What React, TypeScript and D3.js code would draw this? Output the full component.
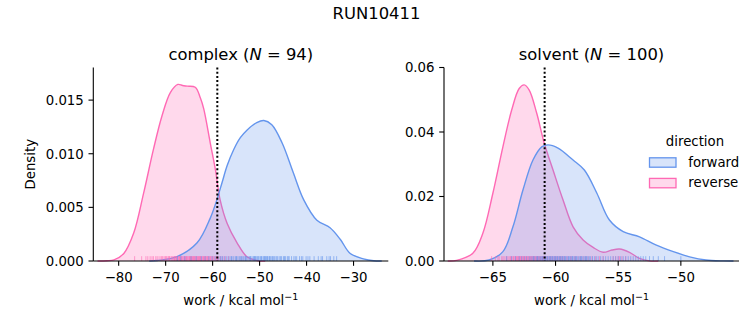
import React from "react";
import * as d3 from "d3";

// ---------- data ----------
const suptitle = "RUN10411";
const directions = ["forward", "reverse"];
const colors = { forward: "#6495ED", reverse: "#FF69B4" };

// complex KDE curves
const complexForwardX = [-73.5, -71.8, -67.6, -63.3, -60.5, -59.1, -58.0, -56.9, -55.5, -54.1, -52.7, -50.6, -49.1, -47.4, -45.2, -42.8, -40.6, -37.8, -35.0, -32.8, -30.7, -27.9, -25.7, -24.0];
const complexForwardY = [0, 0.00005, 0.0004, 0.0017, 0.0040, 0.0057, 0.0073, 0.0089, 0.0104, 0.0115, 0.0122, 0.0129, 0.0131, 0.0127, 0.0110, 0.0082, 0.0057, 0.0038, 0.0031, 0.0020, 0.0007, 0.0002, 0.00002, 0];
const complexReverseX = [-84.5, -82.5, -81.0, -78.9, -76.8, -74.7, -72.6, -70.8, -69.0, -67.4, -66.4, -65.4, -63.7, -62.6, -61.9, -60.5, -59.4, -58.4, -56.9, -54.8, -52.7, -50.6, -48.8];
const complexReverseY = [0, 0.00003, 0.0001, 0.0007, 0.0026, 0.0063, 0.0104, 0.0135, 0.0157, 0.01646, 0.01636, 0.0163, 0.0162, 0.0152, 0.0142, 0.0110, 0.0085, 0.0057, 0.0035, 0.0017, 0.0004, 0.00005, 0];

// solvent KDE curves
const solventForwardX = [-66.5, -65.3, -64.2, -63.4, -62.6, -61.8, -61.1, -60.6, -59.8, -58.6, -57.7, -56.7, -55.7, -54.6, -53.3, -52.0, -50.6, -49.3, -48.0, -46.6, -45.8];
const solventForwardY = [0, 0.0003, 0.0029, 0.0106, 0.0220, 0.0313, 0.0354, 0.0360, 0.0350, 0.0313, 0.0282, 0.0210, 0.0127, 0.0091, 0.0075, 0.0050, 0.0029, 0.0013, 0.0003, 0.00003, 0];
const solventReverseX = [-68.6, -67.9, -66.6, -65.8, -65.0, -64.2, -63.5, -62.9, -62.5, -62.1, -61.5, -60.9, -60.2, -59.4, -58.6, -57.8, -57.0, -56.2, -55.5, -54.9, -54.1, -53.3, -52.5, -51.8];
const solventReverseY = [0, 0.0002, 0.0024, 0.0086, 0.0210, 0.0354, 0.0468, 0.0535, 0.0546, 0.0530, 0.0458, 0.0365, 0.0282, 0.0189, 0.0106, 0.0065, 0.0042, 0.0027, 0.0034, 0.0037, 0.0027, 0.0008, 0.00005, 0];

// rug samples (read approximately)
const complexReverseRug = [-76.6, -75.1, -74.2, -73.8, -73.3, -72.9, -72.6, -72.1, -71.8, -71.4, -71.0, -70.6, -70.3, -70.0, -69.7, -69.4, -69.1, -68.8, -68.6, -68.4, -68.2, -68.0, -67.8, -67.6, -67.4, -67.3, -67.1, -66.9, -66.7, -66.5, -66.3, -66.1, -65.9, -65.7, -65.6, -65.4, -65.2, -65.0, -64.8, -64.7, -64.5, -64.3, -64.1, -63.9, -63.8, -63.6, -63.4, -63.2, -63.0, -62.8, -62.6, -62.5, -62.3, -62.1, -61.9, -61.7, -61.5, -61.3, -61.1, -60.9, -60.7, -60.5, -60.2, -60.0, -59.7, -59.4, -59.1, -58.7, -58.3, -57.8, -57.3, -56.6, -70.8, -69.9, -69.2, -68.1, -67.7, -67.0, -66.6, -66.0, -65.5, -64.9, -64.4, -64.0, -63.5, -63.1, -62.7, -62.0, -61.6, -61.0, -60.4, -59.9, -59.2, -58.9];
const complexForwardRug = [-67.5, -66.8, -65.9, -64.6, -63.5, -62.4, -61.6, -60.8, -60.1, -59.5, -58.9, -58.4, -57.9, -57.5, -57.1, -56.7, -56.3, -55.9, -55.6, -55.2, -54.9, -54.6, -54.3, -54.0, -53.7, -53.4, -53.1, -52.8, -52.5, -52.2, -51.9, -51.6, -51.3, -51.0, -50.7, -50.4, -50.1, -49.8, -49.5, -49.2, -48.9, -48.6, -48.3, -48.0, -47.7, -47.4, -47.1, -46.8, -46.5, -46.1, -45.7, -45.3, -44.9, -44.5, -44.1, -43.7, -43.2, -42.7, -42.1, -41.5, -40.8, -40.1, -39.3, -38.4, -37.5, -36.6, -35.7, -34.9, -34.2, -33.6, -58.2, -56.0, -55.0, -53.9, -53.0, -52.0, -51.1, -50.3, -49.6, -49.0, -48.4, -47.9, -47.2, -46.3, -45.5, -44.7, -43.9, -42.4, -41.1, -39.7, -36.9, -35.2, -50.9, -48.7];
const solventReverseRug = [-65.1, -64.8, -64.5, -64.3, -64.1, -63.9, -63.8, -63.6, -63.5, -63.4, -63.3, -63.2, -63.1, -63.0, -62.9, -62.8, -62.75, -62.7, -62.6, -62.5, -62.45, -62.4, -62.3, -62.2, -62.15, -62.1, -62.0, -61.9, -61.8, -61.7, -61.6, -61.5, -61.4, -61.3, -61.2, -61.1, -61.0, -60.9, -60.8, -60.6, -60.5, -60.3, -60.1, -59.9, -59.7, -59.5, -59.3, -59.0, -58.7, -58.4, -58.0, -57.6, -57.1, -56.5, -55.4, -55.0, -54.7, -54.4, -64.6, -64.2, -63.95, -63.7, -63.55, -63.35, -63.15, -62.95, -62.85, -62.65, -62.55, -62.35, -62.25, -62.05, -61.95, -61.85, -61.75, -61.65, -61.45, -61.35, -61.25, -61.05, -60.95, -60.7, -60.4, -60.2, -60.0, -59.8, -59.6, -59.4, -59.1, -58.8, -58.5, -58.2, -57.8, -57.4, -56.8, -55.2, -54.9, -63.05, -61.55, -56.2];
const solventForwardRug = [-63.9, -63.5, -63.2, -62.9, -62.7, -62.5, -62.3, -62.1, -61.95, -61.8, -61.65, -61.5, -61.4, -61.3, -61.2, -61.1, -61.0, -60.9, -60.8, -60.7, -60.6, -60.5, -60.4, -60.3, -60.2, -60.1, -60.0, -59.9, -59.8, -59.7, -59.6, -59.5, -59.4, -59.3, -59.2, -59.1, -59.0, -58.9, -58.8, -58.7, -58.6, -58.5, -58.4, -58.3, -58.2, -58.1, -58.0, -57.9, -57.8, -57.7, -57.6, -57.5, -57.4, -57.3, -57.2, -57.05, -56.9, -56.75, -56.6, -56.4, -56.2, -56.0, -55.8, -55.6, -55.4, -55.2, -55.0, -54.8, -54.6, -54.4, -54.2, -54.0, -53.8, -53.6, -53.4, -53.2, -53.0, -52.8, -52.5, -52.2, -51.8, -51.3, -50.0, -61.75, -61.45, -61.05, -60.85, -60.65, -60.45, -60.25, -60.05, -59.85, -59.65, -59.45, -59.25, -58.95, -58.65, -58.35, -57.95, -57.55];

const complexVline = -59.0;
const solventVline = -60.87;

const complexXTicks = [-80, -70, -60, -50, -40, -30];
const complexYTicks = [0, 0.005, 0.01, 0.015];
const solventXTicks = [-65, -60, -55, -50];
const solventYTicks = [0, 0.02, 0.04, 0.06];

// ---------- drawing ----------
const FONT = "DejaVu Sans, sans-serif";
const minus = (s: string) => s.replace("-", "\u2212");

type Curve = { key: "forward" | "reverse"; xs: number[]; ys: number[]; rug: number[] };

function Panel(props: {
  left: number; right: number; top: number; bottom: number;
  xDomain: [number, number]; yDomain: [number, number];
  xTicks: number[]; yTicks: number[]; yDigits: number;
  curves: Curve[]; vline: number; name: string; n: number; ylabel?: boolean;
}) {
  const { left, right, top, bottom } = props;
  const x = d3.scaleLinear().domain(props.xDomain).range([left, right]);
  const y = d3.scaleLinear().domain(props.yDomain).range([bottom, top]);
  const area = d3.area<[number, number]>().x(d => x(d[0])).y0(bottom).y1(d => y(d[1])).curve(d3.curveCatmullRom.alpha(0.5));
  const line = d3.line<[number, number]>().x(d => x(d[0])).y(d => y(d[1])).curve(d3.curveCatmullRom.alpha(0.5));
  const rugH = (bottom - top) * 0.025;
  const cx = (left + right) / 2;
  return (
    <g>
      {props.curves.map(c => {
        const pts = c.xs.map((v, i) => [v, c.ys[i]] as [number, number]);
        return (
          <g key={c.key}>
            <path d={area(pts) || ""} fill={colors[c.key]} fillOpacity={0.25} stroke="none" />
            <path d={line(pts) || ""} fill="none" stroke={colors[c.key]} strokeWidth={1.4} />
          </g>
        );
      })}
      {props.curves.map(c => (
        <g key={"rug" + c.key}>
          {c.rug.map((v, i) => (
            <line key={i} x1={x(v)} x2={x(v)} y1={bottom} y2={bottom - rugH} stroke={colors[c.key]} strokeWidth={1} strokeOpacity={0.6} />
          ))}
        </g>
      ))}
      <line x1={x(props.vline)} x2={x(props.vline)} y1={top} y2={bottom} stroke="#000" strokeWidth={2} strokeDasharray="2,2.2" />
      {/* axes */}
      <line x1={left} x2={left} y1={top} y2={bottom} stroke="#000" strokeWidth={1.1} />
      <line x1={left} x2={right} y1={bottom} y2={bottom} stroke="#000" strokeWidth={1.1} />
      {props.xTicks.map(t => (
        <g key={"x" + t}>
          <line x1={x(t)} x2={x(t)} y1={bottom} y2={bottom + 4.8} stroke="#000" strokeWidth={1.1} />
          <text x={x(t)} y={bottom + 20.5} fontSize={13.3} textAnchor="middle" fontFamily={FONT}>{minus(String(t))}</text>
        </g>
      ))}
      {props.yTicks.map(t => (
        <g key={"y" + t}>
          <line x1={left - 4.8} x2={left} y1={y(t)} y2={y(t)} stroke="#000" strokeWidth={1.1} />
          <text x={left - 9.5} y={y(t) + 4.8} fontSize={13.3} textAnchor="end" fontFamily={FONT}>{t.toFixed(props.yDigits)}</text>
        </g>
      ))}
      <text x={cx} y={305} fontSize={13.3} textAnchor="middle" fontFamily={FONT}>
        work / kcal mol<tspan dy={-5} fontSize={9.5}>{"\u22121"}</tspan>
      </text>
      <text x={cx} y={60} fontSize={16.4} textAnchor="middle" fontFamily={FONT}>
        {props.name} (<tspan fontStyle="italic">N</tspan>
        <tspan> = {props.n})</tspan>
      </text>
      {props.ylabel && (
        <text transform={`translate(35,${(top + bottom) / 2}) rotate(-90)`} fontSize={13.3} textAnchor="middle" fontFamily={FONT}>Density</text>
      )}
    </g>
  );
}

export default function App() {
  const complexCurves: Curve[] = [
    { key: "reverse", xs: complexReverseX, ys: complexReverseY, rug: complexReverseRug },
    { key: "forward", xs: complexForwardX, ys: complexForwardY, rug: complexForwardRug },
  ];
  const solventCurves: Curve[] = [
    { key: "reverse", xs: solventReverseX, ys: solventReverseY, rug: solventReverseRug },
    { key: "forward", xs: solventForwardX, ys: solventForwardY, rug: solventForwardRug },
  ];
  return (
    <div style={{ position: "fixed", left: 0, top: 0 }}>
      <svg width={753} height={325} style={{ display: "block", background: "#fff" }}>
        <text x={376.5} y={19} fontSize={16.4} textAnchor="middle" fontFamily={FONT}>{suptitle}</text>
        <Panel left={93.3} right={388.3} top={67.5} bottom={261} xDomain={[-85.4, -22.6]} yDomain={[0, 0.01804]}
          xTicks={complexXTicks} yTicks={complexYTicks} yDigits={3} curves={complexCurves} vline={complexVline}
          name="complex" n={94} ylabel />
        <Panel left={444} right={739} top={67.5} bottom={261} xDomain={[-68.9, -45.36]} yDomain={[0, 0.06]}
          xTicks={solventXTicks} yTicks={solventYTicks} yDigits={2} curves={solventCurves} vline={solventVline}
          name="solvent" n={100} />
        {/* legend */}
        <text x={695} y={146} fontSize={13.3} textAnchor="middle" fontFamily={FONT}>direction</text>
        {directions.map((d, i) => (
          <g key={d}>
            <rect x={649.5} y={157.8 + i * 20.6} width={26.5} height={9.4} fill={colors[d as "forward"]} fillOpacity={0.25}
              stroke={colors[d as "forward"]} strokeWidth={1.3} />
            <text x={688.3} y={166.8 + i * 20.6} fontSize={13.3} fontFamily={FONT}>{d}</text>
          </g>
        ))}
      </svg>
    </div>
  );
}
